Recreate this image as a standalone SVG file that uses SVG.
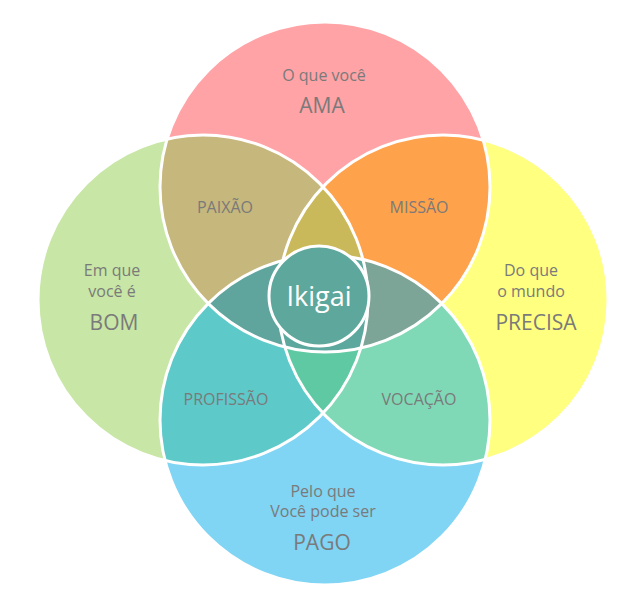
<svg xmlns="http://www.w3.org/2000/svg" width="640" height="596" viewBox="0 0 640 596">
<style>
.s{font-family:"Open Sans",Lato,sans-serif;fill:#7a7a7a;font-size:16px;text-anchor:middle}
.b{font-size:21px}
.o{fill:none;stroke:#fff;stroke-width:3}
</style>
<defs>
<clipPath id="cP"><circle cx="325" cy="187" r="165"/></clipPath>
<clipPath id="cG"><circle cx="203" cy="300" r="165"/></clipPath>
<clipPath id="cY"><circle cx="443" cy="300" r="165"/></clipPath>
<clipPath id="cB"><circle cx="325" cy="420" r="165"/></clipPath>
</defs>
<rect width="640" height="596" fill="#fff"/>
<circle cx="325" cy="187" r="165" fill="#ffa3a6"/>
<circle cx="203" cy="300" r="165" fill="#c8e6a5"/>
<circle cx="443" cy="300" r="165" fill="#ffff80"/>
<circle cx="325" cy="420" r="165" fill="#80d4f4"/>
<g clip-path="url(#cP)"><circle cx="203" cy="300" r="165" fill="#c6b77c"/><circle cx="443" cy="300" r="165" fill="#ffa24c"/></g>
<g clip-path="url(#cB)"><circle cx="203" cy="300" r="165" fill="#5ec9c9"/><circle cx="443" cy="300" r="165" fill="#80d9b6"/></g>
<g clip-path="url(#cG)"><g clip-path="url(#cY)"><circle cx="325" cy="187" r="165" fill="#c9b95a"/><circle cx="325" cy="420" r="165" fill="#5ec9a2"/></g></g>
<g clip-path="url(#cB)"><g clip-path="url(#cP)"><circle cx="203" cy="300" r="165" fill="#5fa59d"/><circle cx="443" cy="300" r="165" fill="#7da597"/></g></g>
<g clip-path="url(#cB)"><g clip-path="url(#cP)"><g clip-path="url(#cG)"><circle cx="443" cy="300" r="165" fill="#5da89e"/></g></g></g>
<circle class="o" cx="325" cy="187" r="165"/>
<circle class="o" cx="203" cy="300" r="165"/>
<circle class="o" cx="443" cy="300" r="165"/>
<circle class="o" cx="325" cy="420" r="165"/>
<circle cx="319" cy="296" r="50" fill="#5ea79d" stroke="#fff" stroke-width="3"/>
<text class="s" x="324" y="81">O que você</text>
<text class="s b" x="322" y="113">AMA</text>
<text class="s" x="112" y="276">Em que</text>
<text class="s" x="112" y="297">você é</text>
<text class="s b" x="114" y="330">BOM</text>
<text class="s" x="531" y="276">Do que</text>
<text class="s" x="531" y="297">o mundo</text>
<text class="s b" x="536" y="330">PRECISA</text>
<text class="s" x="323" y="497">Pelo que</text>
<text class="s" x="323" y="517">Você pode ser</text>
<text class="s b" x="322" y="550">PAGO</text>
<text class="s" x="225" y="213">PAIXÃO</text>
<text class="s" x="419" y="213">MISSÃO</text>
<text class="s" x="226" y="405">PROFISSÃO</text>
<text class="s" x="419" y="405">VOCAÇÃO</text>
<text class="s" x="319" y="306" style="fill:#fff;font-size:27px">Ikigai</text>
</svg>
